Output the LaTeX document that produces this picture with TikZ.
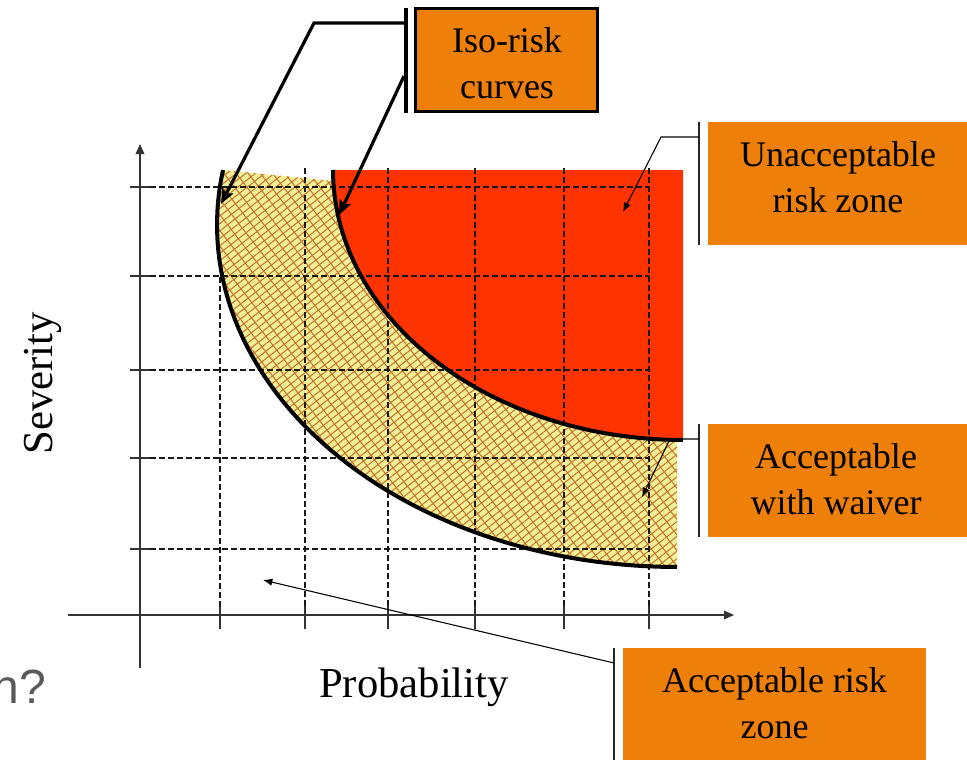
\documentclass[tikz,border=0pt]{standalone}
\usepackage{fontspec}
\setmainfont{Liberation Serif}
\newfontfamily\armsans{Liberation Sans}
\usetikzlibrary{arrows.meta,patterns.meta}
\definecolor{riskred}{RGB}{255,51,0}
\definecolor{boxorange}{RGB}{238,127,8}
\definecolor{hatchyellow}{RGB}{240,240,150}
\definecolor{hatchbrown}{RGB}{200,112,42}
\definecolor{slidegray}{RGB}{90,90,90}
\begin{document}
\begin{tikzpicture}[x=0.75pt,y=-0.75pt,
  gridline/.style={black!90,line width=0.85pt,dash pattern=on 4.5pt off 2.25pt},
  tickline/.style={black!80,line width=0.9pt},
  axisline/.style={black!80,line width=1pt,-{Triangle[length=7.5pt,width=6.5pt]}},
  isocurve/.style={black,line width=3pt},
  zonebox/.style={fill=boxorange,draw=none,inner sep=0pt},
  zonetext/.style={font=\fontsize{27}{34.5}\selectfont,align=center,inner sep=0pt},
  bracketline/.style={black!85,line width=1.1pt},
  thinleader/.style={black,line width=0.8pt,-{Latex[length=7pt,width=5.5pt]}},
  thickleader/.style={black,line width=2.4pt,-{Stealth[length=11pt,width=9pt,inset=2pt]}},
  axislabel/.style={font=\fontsize{32}{38}\selectfont,inner sep=0pt}
]
\useasboundingbox (0,0) rectangle (967,760);

% hatched zone (acceptable with waiver)
\path[fill=hatchyellow,
  postaction={pattern={Lines[angle=38,distance=4.4pt,line width=0.75pt]},pattern color=hatchbrown},
  postaction={pattern={Lines[angle=-52,distance=7.2pt,line width=0.75pt]},pattern color=hatchbrown}]
  (333,181) -- plot[domain=189.25:90,samples=60,variable=\t] ({677+460*cos(\t)},{225+342*sin(\t)})
  -- (677,300) -- cycle;

% red zone
\fill[riskred] (333,170) -- (683,170) -- (683,440)
  -- plot[domain=90:180,samples=60,variable=\t] ({683+350*cos(\t)},{170+270*sin(\t)}) -- cycle;

% grid
\draw[gridline] (220,277) -- (220,608);
\foreach \gx in {305,388,475,564,649} { \draw[gridline] (\gx,168) -- (\gx,608); }
\foreach \gx in {220,305,388,475,564,649} { \draw[tickline] (\gx,606) -- (\gx,629); }
\foreach \gy in {187,276,370,458,549} {
  \draw[gridline] (150,\gy) -- (649,\gy);
  \draw[tickline] (130,\gy) -- (150,\gy);
}

% axes
\coordinate (ybot) at (140,668);
\coordinate (ytop) at (140,144);
\coordinate (xleft) at (68,615);
\coordinate (xright) at (734,615);
\draw[axisline] (ybot) -- (ytop);
\draw[axisline] (xleft) -- (xright);

% iso-risk curves
\draw[isocurve] plot[domain=189.25:90,samples=60,variable=\t] ({677+460*cos(\t)},{225+342*sin(\t)});
\draw[isocurve] plot[domain=180:90,samples=60,variable=\t] ({683+350*cos(\t)},{170+270*sin(\t)});

% boxes
\node[zonebox,draw=black,line width=2.25pt,minimum width=136.5pt,minimum height=77.25pt] (isobox) at (506.5,60) {};
\node[zonetext] (isotext) at (507,63.5) {Iso-risk\\curves};
\node[zonebox,minimum width=194.25pt,minimum height=92.25pt] (unaccbox) at (837.5,183.5) {};
\node[zonetext] (unacctext) at (838,176.7) {Unacceptable\\risk zone};
\node[zonebox,minimum width=194.25pt,minimum height=84.75pt] (waivbox) at (837.5,480.5) {};
\node[zonetext] (waivtext) at (836,479.2) {Acceptable\\with waiver};
\node[zonebox,minimum width=227.25pt,minimum height=84pt] (accbox) at (774.5,704) {};
\node[zonetext] (acctext) at (774.5,702.7) {Acceptable risk\\zone};

% brackets
\coordinate (isobrT) at (406,8);
\coordinate (isobrB) at (406,113);
\draw[black,line width=2.4pt] (isobrT) -- (isobrB);
\coordinate (unbrT) at (699,122);
\coordinate (unbrB) at (699,245);
\draw[bracketline] (unbrT) -- (unbrB);
\coordinate (wvbrT) at (699,424);
\coordinate (wvbrB) at (699,537);
\draw[bracketline] (wvbrT) -- (wvbrB);
\coordinate (acbrT) at (614,648);
\coordinate (acbrB) at (614,760);
\draw[bracketline] (acbrT) -- (acbrB);

% leaders
\coordinate (isoA) at (406,23);
\coordinate (isoAbend) at (314,23);
\coordinate (isoAtip) at (221,204);
\coordinate (isoB) at (404,76);
\coordinate (isoBtip) at (339,215);
\draw[thickleader] (isoA) -- (isoAbend) -- (isoAtip);
\draw[thickleader] (isoB) -- (isoBtip);

\coordinate (unA) at (699,137);
\coordinate (unBend) at (661,137);
\coordinate (unTip) at (623,212);
\draw[thinleader] (unA) -- (unBend) -- (unTip);

\coordinate (wvA) at (699,439);
\coordinate (wvBend) at (670,439);
\coordinate (wvTip) at (642,497);
\draw[thinleader] (wvA) -- (wvBend) -- (wvTip);

\coordinate (acA) at (614,663);
\coordinate (acTip) at (263,580);
\draw[thinleader] (acA) -- (acTip);

% labels
\node[axislabel,anchor=base] (problabel) at (414,697) {Probability};
\node[axislabel,rotate=90,anchor=base] (sevlabel) at (52,383.5) {Severity};
\node[font=\armsans\fontsize{36}{40}\selectfont,text=slidegray,anchor=base east,inner sep=0pt] (cutq) at (46,703) {n?};
\end{tikzpicture}
\end{document}
